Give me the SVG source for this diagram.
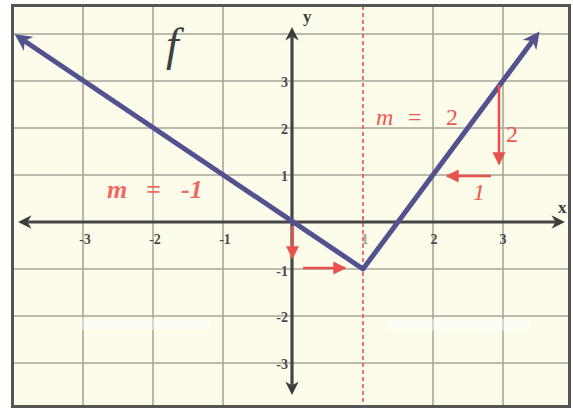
<svg xmlns="http://www.w3.org/2000/svg" width="573" height="410" viewBox="0 0 573 410">
<defs>
<style>
.grid{stroke:#a8a79a;stroke-width:1.6;fill:none}
.axis{stroke:#454545;stroke-width:3.2;fill:none}
.fn{stroke:#52528f;stroke-width:5;fill:none;stroke-linejoin:round}
.red{stroke:#e8524c;stroke-width:2.6;fill:none}
.tick{font-family:"Liberation Serif",serif;font-size:14px;font-weight:bold;fill:#4a4a4a}
.lbl{font-family:"Liberation Serif",serif;font-style:italic;font-size:24px;fill:#ec5a52}
</style>
<marker id="ax" viewBox="0 0 10 10" refX="3" refY="5" markerWidth="4.2" markerHeight="4.2" orient="auto-start-reverse" markerUnits="strokeWidth"><path d="M0,0 L10,5 L0,10 L3,5 z" fill="#3c3c3c"/></marker>
<marker id="fa" viewBox="0 0 10 10" refX="3" refY="5" markerWidth="3.4" markerHeight="3.4" orient="auto-start-reverse" markerUnits="strokeWidth"><path d="M0,0 L10,5 L0,10 L3,5 z" fill="#52528f"/></marker>
<marker id="ra" viewBox="0 0 10 10" refX="9" refY="5" markerWidth="5" markerHeight="5" orient="auto" markerUnits="strokeWidth"><path d="M0,0 L10,5 L0,10 z" fill="#e8524c"/></marker>
</defs>
<rect x="0" y="0" width="573" height="410" fill="#ffffff"/>
<g id="plot-area">
<rect x="12.5" y="5.5" width="557" height="401" fill="#fdfbea"/>
<path class="grid" d="M83,6V406M153,6V406M223,6V406M433,6V406M503,6V406M13,34H569M13,81H569M13,128H569M13,175H569M13,269H569M13,316H569M13,363H569"/>
<rect x="80" y="318" width="130" height="12" fill="#ffffff" opacity="0.45"/>
<rect x="388" y="319" width="142" height="12" fill="#ffffff" opacity="0.45"/>
<line x1="363" y1="6" x2="363" y2="406" stroke="#e8524c" stroke-width="1.6" stroke-dasharray="4,3"/>
<rect x="12.5" y="5.5" width="557" height="401" fill="none" stroke="#555555" stroke-width="3"/>
</g>
<g id="connectors">
<line id="x-axis" class="axis" x1="27.5" y1="222" x2="555.5" y2="222" marker-start="url(#ax)" marker-end="url(#ax)"/>
<line id="y-axis" class="axis" x1="292" y1="36.5" x2="292" y2="385.5" marker-start="url(#ax)" marker-end="url(#ax)"/>
<polyline id="graph-f" class="fn" points="24.5,41 363,269 532.5,41" marker-start="url(#fa)" marker-end="url(#fa)"/>
<line class="red" x1="292.5" y1="226" x2="292.5" y2="258" marker-end="url(#ra)"/>
<line class="red" x1="303" y1="268" x2="345" y2="268" marker-end="url(#ra)"/>
<line class="red" x1="499" y1="85" x2="499" y2="164" marker-end="url(#ra)"/>
<line class="red" x1="491" y1="176" x2="447" y2="176" marker-end="url(#ra)"/>
</g>
<g id="tick-labels" class="tick">
<text x="85" y="244" text-anchor="middle">-3</text>
<text x="155" y="244" text-anchor="middle">-2</text>
<text x="225" y="244" text-anchor="middle">-1</text>
<text x="365" y="244" text-anchor="middle" opacity="0.5">1</text>
<text x="434" y="244" text-anchor="middle">2</text>
<text x="503" y="244" text-anchor="middle">3</text>
<text x="288" y="87" text-anchor="end">3</text>
<text x="288" y="134" text-anchor="end">2</text>
<text x="288" y="181" text-anchor="end">1</text>
<text x="288" y="276" text-anchor="end">-1</text>
<text x="288" y="322" text-anchor="end">-2</text>
<text x="288" y="369" text-anchor="end">-3</text>
</g>
<g id="axis-labels" style="font-family:'Liberation Serif',serif;font-size:17px;font-weight:bold;fill:#3c3c3c">
<text x="558" y="213">x</text>
<text x="303" y="22">y</text>
</g>
<g id="label-f"><text x="166" y="60" style="font-family:'Liberation Serif',serif;font-style:italic;font-size:46px;fill:#404040">f</text></g>
<g id="label-m-neg1" class="lbl" style="font-weight:bold;font-size:26px;fill:#ee6a62">
<text x="107" y="198">m</text><text x="146" y="198">=</text><text x="181" y="198">-1</text>
</g>
<g id="label-m-2" class="lbl">
<text x="376" y="125">m</text><text x="408" y="125" font-style="normal">=</text><text x="446" y="125" font-style="normal">2</text>
</g>
<g id="rise-run" class="lbl">
<text x="506" y="142" font-style="normal">2</text>
<text x="473" y="200">1</text>
</g>
</svg>
